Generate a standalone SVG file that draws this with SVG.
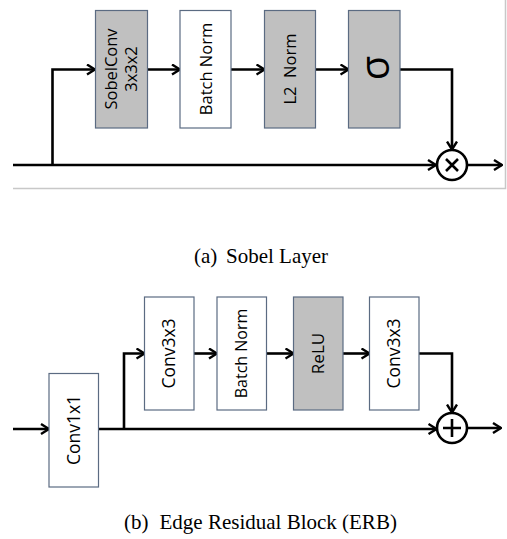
<svg xmlns="http://www.w3.org/2000/svg" width="507" height="539" viewBox="0 0 507 539">
<style>
.box{stroke:#5b6b82;stroke-width:1.2}
.w{fill:#ffffff}
.g{fill:#c0c0c0}
.lbl{font-family:"Open Sans","Liberation Sans",sans-serif;font-size:16.5px;fill:#000;text-anchor:middle}
.ln{fill:none;stroke:#000;stroke-width:2.6}
.cap{font-family:"Liberation Serif","Times New Roman",serif;font-size:21px;fill:#000}
.frame{fill:none;stroke:#c8c8c8;stroke-width:1.5}
</style>
<defs>
<marker id="ah" viewBox="0 0 10 12" refX="9" refY="6" markerWidth="10" markerHeight="12" markerUnits="userSpaceOnUse" orient="auto">
<path d="M1,1 L9,6 L1,11" fill="none" stroke="#000" stroke-width="2.4"/>
</marker>
</defs>
<rect width="507" height="539" fill="#fff"/>
<path class="frame" d="M13,188.5 H505.5 V0"/>
<g id="connectors">
<path class="ln" d="M13,165 H436" marker-end="url(#ah)"/>
<path class="ln" d="M52.5,165 V69.5 H95" marker-end="url(#ah)"/>
<path class="ln" d="M147.5,69.5 H180" marker-end="url(#ah)"/>
<path class="ln" d="M231,69.5 H264.5" marker-end="url(#ah)"/>
<path class="ln" d="M315.5,69.5 H348.5" marker-end="url(#ah)"/>
<path class="ln" d="M400,69.5 H452 V149.5" marker-end="url(#ah)"/>
<path class="ln" d="M467,165 H502" marker-end="url(#ah)"/>
<path class="ln" d="M13,429 H49" marker-end="url(#ah)"/>
<path class="ln" d="M98.5,429 H436.5" marker-end="url(#ah)"/>
<path class="ln" d="M124,429 V353.5 H144.5" marker-end="url(#ah)"/>
<path class="ln" d="M194,353.5 H217" marker-end="url(#ah)"/>
<path class="ln" d="M266.5,353.5 H293.5" marker-end="url(#ah)"/>
<path class="ln" d="M343,353.5 H369.5" marker-end="url(#ah)"/>
<path class="ln" d="M419,353.5 H452 V412.5" marker-end="url(#ah)"/>
<path class="ln" d="M467,428 H501" marker-end="url(#ah)"/>
</g>
<g id="sobelconv">
<rect class="box g" x="95.5" y="10.5" width="52" height="117.5"/>
<text class="lbl" transform="translate(121.5,69) rotate(-90)"><tspan x="0" y="-5">SobelConv</tspan><tspan x="0" y="15.5">3x3x2</tspan></text>
</g>
<g id="batchnorm1">
<rect class="box w" x="180" y="10.5" width="51" height="117.5"/>
<text class="lbl" transform="translate(205.5,69) rotate(-90)" y="6">Batch Norm</text>
</g>
<g id="l2norm">
<rect class="box g" x="264.5" y="10.5" width="51" height="117.5"/>
<text class="lbl" transform="translate(290,69) rotate(-90)" y="6" xml:space="preserve">L2  Norm</text>
</g>
<g id="sigma">
<rect class="box g" x="348.5" y="10.5" width="51.5" height="117.5"/>
<text class="lbl" style="font-size:40px" transform="translate(376,68) rotate(-90)" y="13">σ</text>
</g>
<g id="mult">
<circle cx="452" cy="165" r="15" fill="#fff" stroke="#000" stroke-width="2.6"/>
<path class="ln" d="M446,159 L458,171 M458,159 L446,171"/>
</g>
<g id="conv1x1">
<rect class="box w" x="49" y="373.5" width="49.5" height="113.5"/>
<text class="lbl" style="font-size:17.5px" transform="translate(73.75,430) rotate(-90)" y="6">Conv1x1</text>
</g>
<g id="conv3x3a">
<rect class="box w" x="144.5" y="297" width="49.5" height="113"/>
<text class="lbl" style="font-size:17.5px" transform="translate(169.25,353.5) rotate(-90)" y="6">Conv3x3</text>
</g>
<g id="batchnorm2">
<rect class="box w" x="217" y="297" width="49.5" height="113"/>
<text class="lbl" style="font-size:16px" transform="translate(241.75,353.5) rotate(-90)" y="5.5">Batch Norm</text>
</g>
<g id="relu">
<rect class="box g" x="293.5" y="297" width="49.5" height="113"/>
<text class="lbl" style="font-size:17px" transform="translate(318.25,353.5) rotate(-90)" y="6">ReLU</text>
</g>
<g id="conv3x3b">
<rect class="box w" x="369.5" y="297" width="49.5" height="113"/>
<text class="lbl" style="font-size:17.5px" transform="translate(394.25,353.5) rotate(-90)" y="6">Conv3x3</text>
</g>
<g id="add">
<circle cx="452" cy="428" r="15" fill="#fff" stroke="#000" stroke-width="2.6"/>
<path class="ln" d="M452,419 V437 M443,428 H461"/>
</g>
<text class="cap" x="194" y="263">(a)</text>
<text class="cap" x="226" y="263">Sobel Layer</text>
<text class="cap" x="124" y="529">(b)</text>
<text class="cap" x="159.5" y="529">Edge Residual Block (ERB)</text>
</svg>
